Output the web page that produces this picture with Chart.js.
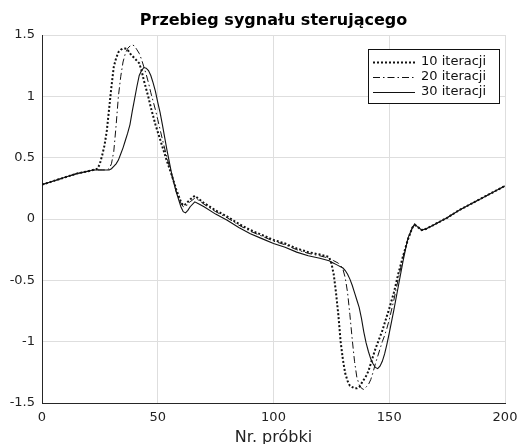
<!DOCTYPE html>
<html><head><meta charset="utf-8">
<script src="https://cdn.jsdelivr.net/npm/chart.js@4"></script>
<style>html,body{margin:0;padding:0;background:#fff}#wrap{width:518px;height:444px}</style>
</head><body><div id="wrap"><canvas id="c" width="518" height="444"></canvas></div>
<script>
const sampleX = [0,5,10,15,20,22,24,25,26,27,28,29,30,31,32,33,34,35,36,37,38,39,40,41,42,43,44,45,46,47,48,49,50,51,52,54,56,58,60,61,62,63,64,66,68,70,75,80,85,90,95,100,105,110,115,120,122,124,125,126,127,128,129,130,131,132,133,134,135,136,137,138,139,140,141,142,143,144,145,146,147,148,149,150,152,154,156,158,160,161,162,164,166,170,175,180,185,190,195,200];
const iter10 = [0.28,0.31,0.34,0.37,0.39,0.40,0.41,0.45,0.52,0.60,0.72,0.90,1.08,1.24,1.31,1.36,1.38,1.39,1.39,1.38,1.35,1.33,1.31,1.29,1.27,1.21,1.13,1.06,0.99,0.91,0.84,0.77,0.71,0.65,0.59,0.47,0.36,0.24,0.14,0.11,0.12,0.14,0.16,0.19,0.16,0.13,0.07,0.02,-0.04,-0.09,-0.13,-0.17,-0.20,-0.24,-0.27,-0.29,-0.30,-0.31,-0.36,-0.45,-0.60,-0.78,-1.00,-1.15,-1.26,-1.32,-1.36,-1.37,-1.38,-1.38,-1.37,-1.34,-1.31,-1.28,-1.24,-1.18,-1.12,-1.06,-1.01,-0.96,-0.91,-0.85,-0.79,-0.73,-0.60,-0.44,-0.30,-0.17,-0.07,-0.05,-0.06,-0.09,-0.08,-0.04,0.01,0.07,0.12,0.17,0.22,0.27];
const iter20 = [0.28,0.31,0.34,0.37,0.39,0.40,0.40,0.40,0.40,0.40,0.40,0.41,0.45,0.55,0.76,1.00,1.16,1.28,1.35,1.39,1.41,1.42,1.41,1.38,1.35,1.30,1.24,1.18,1.11,1.03,0.96,0.89,0.81,0.73,0.65,0.50,0.36,0.22,0.13,0.10,0.10,0.12,0.14,0.17,0.15,0.12,0.06,0.01,-0.05,-0.10,-0.14,-0.18,-0.21,-0.25,-0.28,-0.30,-0.31,-0.32,-0.33,-0.34,-0.35,-0.36,-0.38,-0.41,-0.48,-0.60,-0.78,-0.98,-1.16,-1.29,-1.35,-1.38,-1.39,-1.37,-1.35,-1.31,-1.25,-1.18,-1.12,-1.06,-1.00,-0.95,-0.89,-0.82,-0.66,-0.48,-0.31,-0.17,-0.07,-0.05,-0.06,-0.09,-0.08,-0.04,0.01,0.07,0.12,0.17,0.22,0.27];
const iter30 = [0.28,0.31,0.34,0.37,0.39,0.40,0.40,0.40,0.40,0.40,0.40,0.40,0.41,0.43,0.45,0.48,0.53,0.58,0.64,0.70,0.77,0.88,0.98,1.08,1.17,1.21,1.235,1.23,1.21,1.17,1.11,1.04,0.95,0.87,0.77,0.56,0.37,0.22,0.10,0.06,0.05,0.07,0.10,0.14,0.12,0.10,0.04,-0.01,-0.07,-0.12,-0.16,-0.20,-0.23,-0.27,-0.30,-0.32,-0.33,-0.34,-0.35,-0.36,-0.37,-0.38,-0.39,-0.40,-0.42,-0.45,-0.49,-0.54,-0.60,-0.66,-0.72,-0.81,-0.92,-1.01,-1.08,-1.14,-1.18,-1.21,-1.22,-1.20,-1.16,-1.10,-1.02,-0.93,-0.74,-0.54,-0.34,-0.16,-0.07,-0.04,-0.06,-0.09,-0.08,-0.04,0.01,0.07,0.12,0.17,0.22,0.27];
const seriesNames = ['10 iteracji','20 iteracji','30 iteracji'];
const xTicks = [0,50,100,150,200];
const yTicks = [-1.5,-1,-0.5,0,0.5,1,1.5];
const chartTitle = 'Przebieg sygnału sterującego';

const styles = [
  {width:2, dash:[2,2]},
  {width:1, dash:[7,3,1.5,3]},
  {width:1.1, dash:[]}
];
const seriesValues = [iter10, iter20, iter30];

const datasets = seriesValues.map((vals, i) => ({
  label: seriesNames[i],
  data: sampleX.map((x, k) => ({x: x, y: vals[k]})),
  borderColor: '#111',
  borderWidth: styles[i].width,
  borderDash: styles[i].dash,
  pointRadius: 0,
  tension: 0,
  fill: false
}));

const decorPlugin = {
  id: 'decor',
  afterDraw(chart) {
    const ctx = chart.ctx, a = chart.chartArea;
    ctx.save();
    ctx.font = 'bold 16px "DejaVu Sans"';
    ctx.fillStyle = '#000';
    ctx.textAlign = 'center';
    ctx.textBaseline = 'middle';
    ctx.fillText(chartTitle, (a.left + a.right) / 2, a.top - 14);
    const w = 132, h = 55;
    const left = a.right - 5 - w, top = a.top + 14;
    ctx.fillStyle = '#fff';
    ctx.fillRect(left, top, w, h);
    ctx.strokeStyle = '#111';
    ctx.lineWidth = 1;
    ctx.setLineDash([]);
    ctx.strokeRect(left + 0.5, top + 0.5, w - 1, h - 1);
    ctx.font = '13px "DejaVu Sans"';
    ctx.textBaseline = 'middle';
    ctx.textAlign = 'left';
    ctx.fillStyle = '#111';
    seriesNames.forEach((name, i) => {
      const y = top + 12.5 + i * 15;
      ctx.beginPath();
      ctx.lineWidth = styles[i].width;
      ctx.setLineDash(styles[i].dash);
      ctx.moveTo(left + 5, Math.round(y) + 0.5);
      ctx.lineTo(left + 47, Math.round(y) + 0.5);
      ctx.stroke();
      ctx.setLineDash([]);
      ctx.fillText(name, left + 53, y);
    });
    ctx.restore();
  }
};

new Chart(document.getElementById('c'), {
  type: 'line',
  data: { datasets },
  plugins: [decorPlugin],
  options: {
    responsive: false,
    animation: false,
    devicePixelRatio: 1,
    layout: { padding: { left: 0, right: 13, top: 35, bottom: 0 } },
    plugins: {
      legend: { display: false },
      tooltip: { enabled: false },
      title: { display: false }
    },
    scales: {
      x: {
        type: 'linear',
        min: 0, max: 200,
        afterFit(s) { s.height = 41; s.paddingLeft = 0; s.paddingRight = 0; },
        afterBuildTicks(s) { s.ticks = xTicks.map(v => ({value: v})); },
        ticks: { color: '#222', padding: 7, font: { family: '"DejaVu Sans"', size: 13 }, maxRotation: 0, callback: v => String(v) },
        grid: { color: '#dedede', drawTicks: false, lineWidth: 1 },
        border: { display: true, color: '#262626', width: 1 },
        title: { display: true, text: 'Nr. próbki', color: '#222', font: { family: '"DejaVu Sans"', size: 16, lineHeight: 0.75 }, padding: { top: 0, bottom: 0 } }
      },
      y: {
        type: 'linear',
        min: -1.5, max: 1.5,
        afterFit(s) { s.width = 42; s.paddingTop = 0; s.paddingBottom = 0; },
        afterBuildTicks(s) { s.ticks = yTicks.map(v => ({value: v})); },
        ticks: { color: '#222', padding: 7, font: { family: '"DejaVu Sans"', size: 13 }, callback: v => String(v) },
        grid: { color: '#dedede', drawTicks: false, lineWidth: 1 },
        border: { display: true, color: '#262626', width: 1 }
      }
    }
  }
});
</script>
</body></html>
